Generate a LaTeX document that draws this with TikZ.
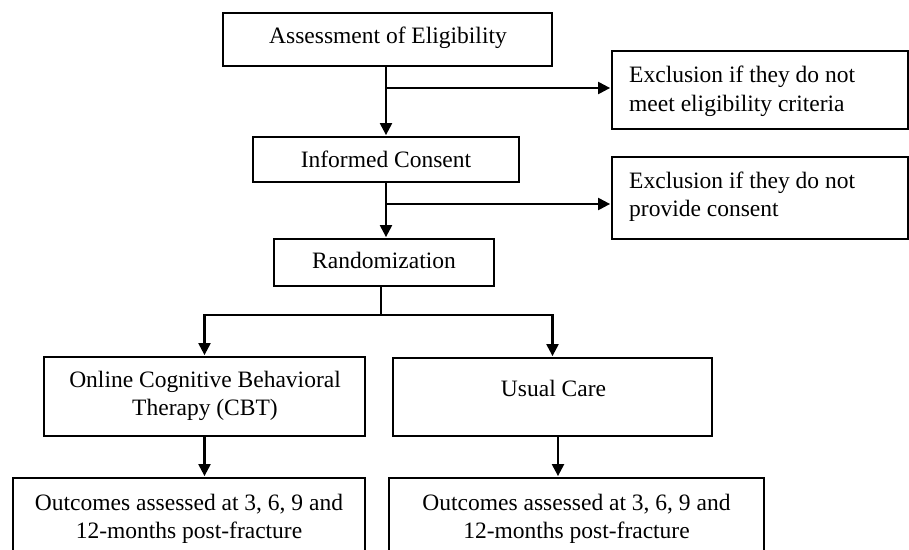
\documentclass[tikz,border=0pt]{standalone}
\usepackage{fontspec}
\setmainfont{Liberation Serif}
\usetikzlibrary{arrows.meta}
\begin{document}
\begin{tikzpicture}[x=1pt,y=-1pt,
  boxr/.style={draw, line width=1.8pt, inner sep=0pt},
  txt/.style={anchor=base, inner sep=0pt, font=\fontsize{23.5}{28}\selectfont},
  ltxt/.style={anchor=base west, inner sep=0pt, font=\fontsize{23.5}{28}\selectfont},
  arr/.style={line width=2.2pt, shorten >=1pt, -{Triangle[width=12pt,length=12pt]}},
  thinln/.style={line width=1.4pt}]
\clip (0,0) rectangle (909,549);
% boxes
\node[boxr, minimum width=329pt, minimum height=53pt] (assess) at (387.5,39.5) {};
\node[boxr, minimum width=296pt, minimum height=78pt] (excl1) at (760,90) {};
\node[boxr, minimum width=266pt, minimum height=45pt] (consent) at (386,159.5) {};
\node[boxr, minimum width=296pt, minimum height=82pt] (excl2) at (760,198) {};
\node[boxr, minimum width=220pt, minimum height=47pt] (rand) at (384,262.5) {};
\node[boxr, minimum width=321pt, minimum height=79pt] (cbt) at (204.5,396.5) {};
\node[boxr, minimum width=319pt, minimum height=78pt] (usual) at (552.5,397) {};
\node[boxr, minimum width=352pt, minimum height=122pt] (outL) at (189,539) {};
\node[boxr, minimum width=375pt, minimum height=122pt] (outR) at (576.5,539) {};
% texts
\node[txt] (tassess) at (388,43) {Assessment of Eligibility};
\node[ltxt] (te1a) at (629,82) {Exclusion if they do not};
\node[ltxt] (te1b) at (629,111) {meet eligibility criteria};
\node[txt] (tconsent) at (386,167) {Informed Consent};
\node[ltxt] (te2a) at (629,188) {Exclusion if they do not};
\node[ltxt] (te2b) at (629,216) {provide consent};
\node[txt] (trand) at (384,268) {Randomization};
\node[txt] (tcbta) at (205,387) {Online Cognitive Behavioral};
\node[txt] (tcbtb) at (205,415) {Therapy (CBT)};
\node[txt] (tusual) at (553.5,396) {Usual Care};
\node[txt] (toLa) at (189,510) {Outcomes assessed at 3, 6, 9 and};
\node[txt] (toLb) at (189,538) {12-months post-fracture};
\node[txt] (toRa) at (576.5,510) {Outcomes assessed at 3, 6, 9 and};
\node[txt] (toRb) at (576.5,538) {12-months post-fracture};
% connectors
\coordinate (a1) at (consent.north |- assess.south);
\draw[arr] (a1) -- (consent.north);
\coordinate (b1) at (386,88);
\draw[arr] (b1) -- (b1 -| excl1.west);
\coordinate (a2) at (386,182);
\draw[arr] (a2) -- (a2 |- rand.north);
\coordinate (b2) at (386,204);
\draw[arr] (b2) -- (b2 -| excl2.west);
\coordinate (split) at (381,315);
\draw[thinln] (rand.south -| split) -- (split);
\draw[arr] (split) -| (cbt.north);
\draw[arr] (split) -| (usual.north);
\draw[arr] (cbt.south) -- (cbt.south |- outL.north);
\coordinate (c2) at (558,436);
\draw[arr] (c2) -- (c2 |- outR.north);
\end{tikzpicture}
\end{document}
